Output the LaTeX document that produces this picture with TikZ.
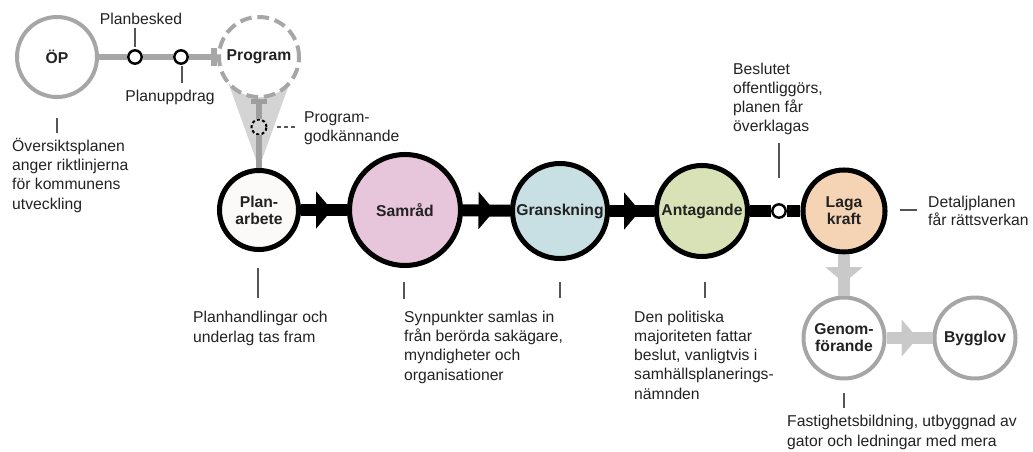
\documentclass[tikz,border=0pt]{standalone}
\usepackage{fontspec}
\setmainfont{Liberation Sans}
\usetikzlibrary{arrows.meta,decorations.markings}
\definecolor{ringgrey}{HTML}{A6A6A6}
\definecolor{arrowgrey}{HTML}{C9C9C9}
\definecolor{funnelgrey}{HTML}{D4D4D4}
\definecolor{funnelline}{HTML}{9E9E9E}
\definecolor{tickgrey}{HTML}{555555}
\definecolor{textdark}{HTML}{222222}
\definecolor{planfill}{HTML}{FBFAF8}
\definecolor{samradfill}{HTML}{E7C5DA}
\definecolor{granskfill}{HTML}{C8DFE3}
\definecolor{antagfill}{HTML}{D8E2B6}
\definecolor{lagafill}{HTML}{F4D4B4}
\tikzset{
	stage/.style={circle, draw=black, line width=4.3pt, inner sep=0pt, align=center, text=textdark, font=\bfseries\fontsize{13.4}{14.5}\selectfont},
	greystage/.style={stage, draw=ringgrey, line width=3.4pt, fill=white},
	milestone/.style={circle, draw=black, line width=2.1pt, fill=white, minimum size=0.4cm, inner sep=0pt},
	desc/.style={anchor=base west, align=left, inner sep=0pt, text=textdark, font=\fontsize{13.4}{16.3}\selectfont},
	pointer/.style={draw=tickgrey, line width=1.2pt},
	mainline/.style={draw=black, line width=10.2pt},
	greyline/.style={draw=ringgrey, line width=5pt},
	greyarrow/.style={draw=arrowgrey, line width=10.2pt},
	midtri/.style={postaction={decorate}, decoration={markings, mark=at position 0.5 with {\fill[#1] (-6.8pt,-16pt) -- (6.8pt,0pt) -- (-6.8pt,16pt) -- cycle;}}}
}
\begin{document}
\begin{tikzpicture}[x=0.03cm, y=-0.03cm]
	\useasboundingbox (0,0) rectangle (1033,452);
	% funnel between program and planarbete
	\fill[funnelgrey] (228,82) -- (290,82) -- (259,168) -- cycle;

	% stages
	\node[greystage, minimum size=2.4cm] (OP) at (57,57) {ÖP};
	\node[greystage, dash pattern=on 10pt off 5pt, minimum size=2.4cm] (Program) at (259,57) {Program};
	\node[milestone] (besked) at (135,57) {};
	\node[milestone] (uppdrag) at (181,57) {};
	\node[milestone, fill=funnelgrey, line width=1.7pt, dash pattern=on 2.6pt off 2pt, minimum size=0.45cm] (godk) at (259,127) {};
	\node[stage, fill=planfill, minimum size=2.37cm] (Planarbete) at (259,210) {Plan-\\arbete};
	\node[stage, fill=samradfill, minimum size=3.33cm] (Samrad) at (405,210) {Samråd};
	\node[stage, fill=granskfill, minimum size=2.85cm] (Granskning) at (560,211) {Granskning};
	\node[stage, fill=antagfill, minimum size=2.73cm] (Antagande) at (702,211) {Antagande};
	\node[milestone] (beslut) at (779,211) {};
	\node[stage, fill=lagafill, minimum size=2.46cm] (Laga) at (844,211) {Laga\\kraft};
	\node[greystage, minimum size=2.43cm] (Genom) at (844,338) {Genom-\\förande};
	\node[greystage, minimum size=2.43cm] (Bygglov) at (975,338) {Bygglov};

	% connectors
	\draw[greyline] (OP) -- (besked);
	\draw[greyline] (besked) -- (uppdrag);
	\draw[greyline, -{Bar[width=15pt]}] (uppdrag) -- (Program);
	\draw[funnelline, line width=4.3pt, {Bar[width=13pt]}-] (Program) -- (godk);
	\draw[funnelline, line width=4.3pt] (godk) -- (Planarbete);
	\draw[mainline, midtri=black] (Planarbete) -- (Samrad);
	\draw[mainline, midtri=black] (Samrad) -- (Granskning);
	\draw[mainline, midtri=black] (Granskning) -- (Antagande);
	\draw[mainline] (Antagande) -- (beslut);
	\draw[mainline] (beslut) -- (Laga);
	\draw[greyarrow, midtri=arrowgrey] (Laga) -- (Genom);
	\draw[greyarrow, midtri=arrowgrey] (Genom) -- (Bygglov);

	% labels and ticks (multi-line labels sit on their last line)
	\node[desc, anchor=base] (beskedtext) at (141,25) {Planbesked};
	\draw[pointer] (135,28) -- (135,47);
	\node[desc, anchor=base] (uppdragtext) at (170,102) {Planuppdrag};
	\draw[pointer] (182,66) -- (182,83);
	\draw[pointer, dash pattern=on 3.5pt off 2.5pt] (277,127) -- (295,127);
	\node[desc] (godktext) at (304,142) {Program-\\godkännande};

	\draw[pointer] (57,118) -- (57,133);
	\node[desc] (OPtext) at (12,209) {Översiktsplanen\\anger riktlinjerna\\för kommunens\\utveckling};
	\draw[pointer] (258,268) -- (258,298);
	\node[desc] (Plantext) at (193,342) {Planhandlingar och\\underlag tas fram};
	\draw[pointer] (404,282) -- (404,299);
	\node[desc] (Samradtext) at (404,380) {Synpunkter samlas in\\från berörda sakägare,\\myndigheter och\\organisationer};
	\draw[pointer] (560,282) -- (560,298);
	\draw[pointer] (705,282) -- (705,298);
	\node[desc] (Antagtext) at (634,399) {Den politiska\\majoriteten fattar\\beslut, vanligtvis i\\samhällsplanerings-\\nämnden};
	\draw[pointer] (779,143) -- (779,178);
	\node[desc] (beslutext) at (733,132) {Beslutet\\offentliggörs,\\planen får\\överklagas};
	\draw[pointer] (900,210) -- (917,210);
	\node[desc, font=\fontsize{13.4}{15}\selectfont] (Lagatext) at (928,225) {Detaljplanen\\får rättsverkan};
	\draw[pointer] (844,393) -- (844,408);
	\node[desc] (Genomtext) at (787,446) {Fastighetsbildning, utbyggnad av\\gator och ledningar med mera};
\end{tikzpicture}
\end{document}
